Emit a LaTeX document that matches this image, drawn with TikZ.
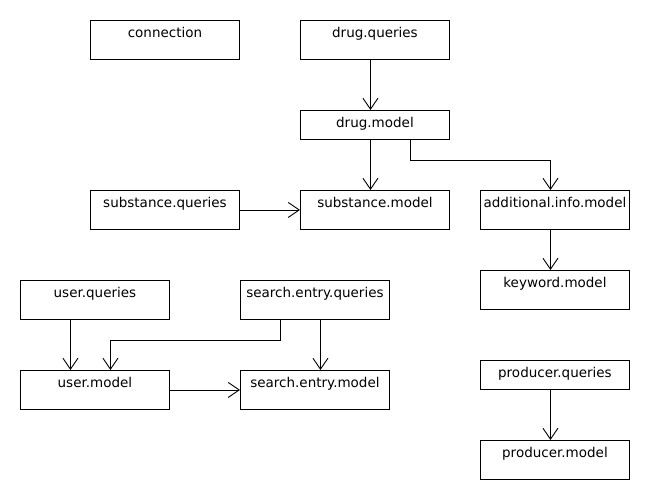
\documentclass[tikz,border=0pt]{standalone}
\usepackage{fontspec}
\setmainfont{DejaVu Sans}
\usetikzlibrary{arrows.meta}
\begin{document}
\begin{tikzpicture}[x=1pt,y=-1pt,line width=0.9pt,
  font=\fontsize{13.5pt}{16pt}\selectfont,
  cls/.style={rectangle,draw,anchor=north west,inner sep=0,minimum width=149pt,text height=17.5pt,text depth=21.5pt},
  clsthin/.style={cls,text depth=11.5pt},
  dep/.style={-{Straight Barb[length=11pt,width=15pt]}}]
          \useasboundingbox (0,0) rectangle (650,500);
          \node[cls] (conn) at (90,20) {connection};
          \node[cls] (dq) at (300,20) {drug.queries};
          \node[clsthin] (dm) at (300,110) {drug.model};
          \node[cls] (sq) at (90,190) {substance.queries};
          \node[cls] (sm) at (300,190) {substance.model};
          \node[cls] (aim) at (480,190) {additional.info.model};
          \node[cls] (km) at (480,270) {keyword.model};
          \node[cls] (uq) at (20,280) {user.queries};
          \node[cls] (seq) at (240,280) {search.entry.queries};
          \node[cls] (um) at (20,370) {user.model};
          \node[cls] (sem) at (240,370) {search.entry.model};
          \node[clsthin] (pq) at (480,360) {producer.queries};
          \node[cls] (pm) at (480,440) {producer.model};
          \draw[dep] ([xshift=-4.5pt]dq.south)--([xshift=-4.5pt]dm.north);
          \draw[dep] ([xshift=-4.5pt]dm.south)--([xshift=-4.5pt]sm.north);
          \draw[dep] ([xshift=35.5pt]dm.south)--++(0,21)-|([xshift=-4.5pt]aim.north);
          \draw[dep] (sq.east)--(sq.east-|sm.west);
          \draw[dep] ([xshift=-4.5pt]aim.south)--([xshift=-4.5pt]km.north);
          \draw[dep] ([xshift=-24.5pt]uq.south)--([xshift=-24.5pt]um.north);
          \draw[dep] ([xshift=-34.5pt]seq.south)--++(0,21)-|([xshift=15.5pt]um.north);
          \draw[dep] ([xshift=5.5pt]seq.south)--([xshift=5.5pt]sem.north);
          \draw[dep] (um.east)--(um.east-|sem.west);
          \draw[dep] ([xshift=-4.5pt]pq.south)--([xshift=-4.5pt]pm.north);
\end{tikzpicture}
\end{document}
